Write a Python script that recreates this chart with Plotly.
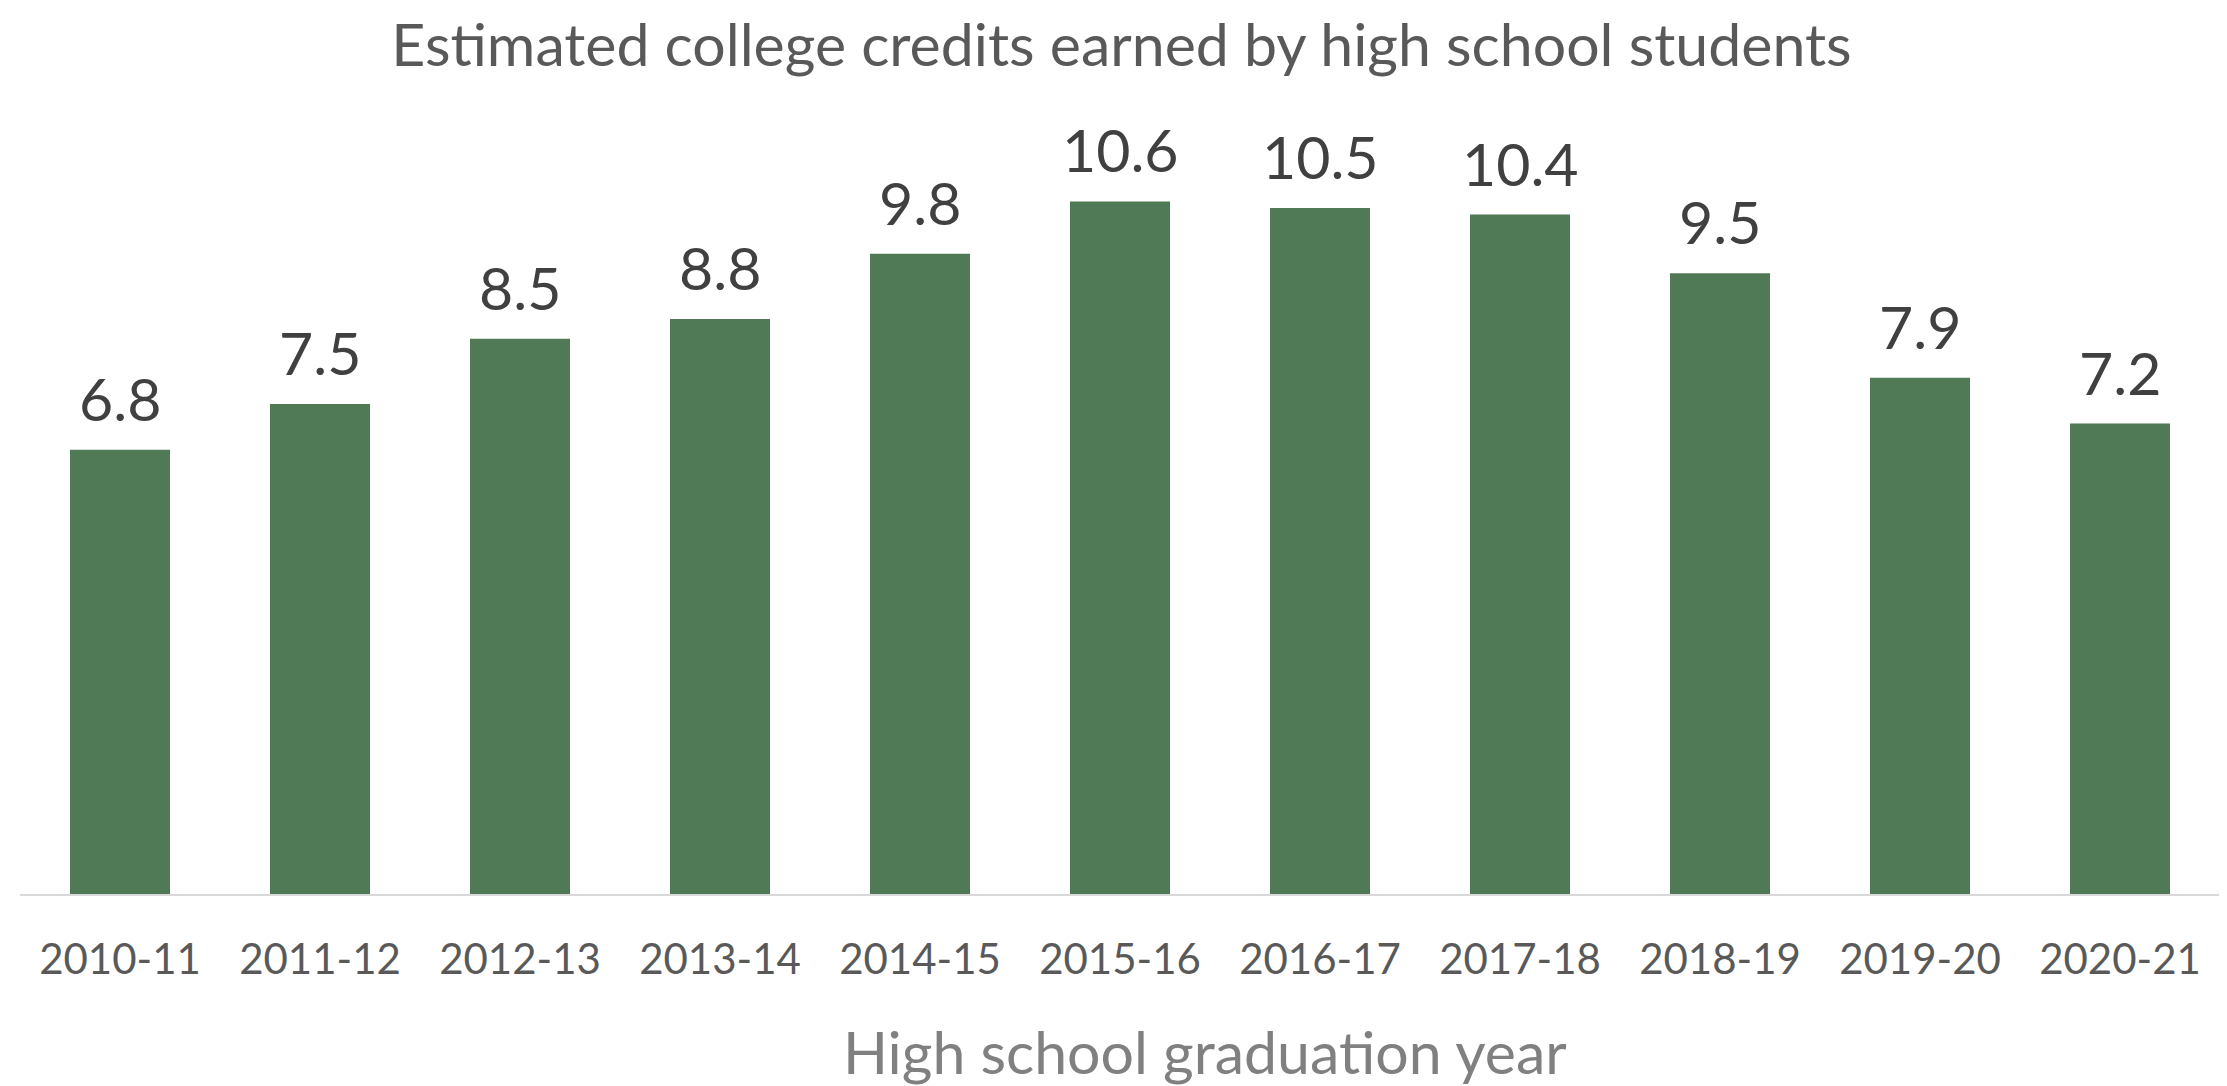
import plotly.graph_objects as go

years = ["2010-11", "2011-12", "2012-13", "2013-14", "2014-15", "2015-16",
         "2016-17", "2017-18", "2018-19", "2019-20", "2020-21"]
credits = [6.8, 7.5, 8.5, 8.8, 9.8, 10.6, 10.5, 10.4, 9.5, 7.9, 7.2]

title_text = "Estimated college credits earned by high school students"
xaxis_title = "High school graduation year"

FONT = "Lato"

fig = go.Figure()
fig.add_trace(go.Bar(
    x=years, y=credits,
    marker=dict(color="#507955", line=dict(width=0)),
    hoverinfo="x+y",
))

for x, v in zip(years, credits):
    fig.add_annotation(
        x=x, y=v, xref="x", yref="y",
        text=f"{v:.1f}", showarrow=False,
        yanchor="bottom", yshift=14,
        font=dict(family=FONT, size=59, color="#404040"),
    )

# x-axis title (offset to the right as in the reference)
fig.add_annotation(
    x=0.5386, y=-0.2005, xref="paper", yref="paper",
    xanchor="center", yanchor="middle",
    text=xaxis_title, showarrow=False,
    font=dict(family=FONT, size=59, color="#808080"),
)

fig.update_layout(
    width=2227, height=1086,
    margin=dict(l=12, r=15, t=102, b=200),
    paper_bgcolor="white", plot_bgcolor="white",
    bargap=0.5,
    showlegend=False,
    title=dict(
        text=title_text, x=0.5, xanchor="center",
        y=1 - 37 / 1086, yanchor="middle", yref="container",
        font=dict(family=FONT, size=59, color="#595959"),
    ),
    xaxis=dict(
        type="category",
        showgrid=False, showline=True, linecolor="#d9d9d9", linewidth=2,
        ticks="", tickfont=dict(family=FONT, size=42, color="#595959"),
        ticklabelstandoff=28,
    ),
    yaxis=dict(
        range=[0, 12], visible=False, showgrid=False, zeroline=False,
    ),
)

fig.write_html("out.html")
